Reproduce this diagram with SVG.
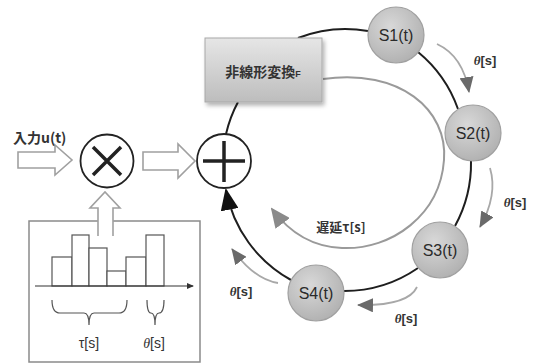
<svg xmlns="http://www.w3.org/2000/svg" width="536" height="363" viewBox="0 0 536 363">
  <style>
    .lbl { font-family: "Liberation Sans", "Noto Sans CJK JP", sans-serif; fill: #333; }
    .jp { font-family: "Noto Sans CJK JP", "Liberation Sans", sans-serif; font-weight: bold; fill: #333; }
    .th { font-family: "Liberation Serif", serif; font-style: italic; }
    .ring { fill: none; stroke: #1e1e1e; stroke-width: 2; }
    .hollow { fill: #fff; stroke: #a0a0a0; stroke-width: 1.6; stroke-linejoin: miter; }
    .theta { fill: none; stroke: #a8a8a8; stroke-width: 1.8; }
    .node circle { fill: url(#nodeFill); stroke: #a0a0a0; stroke-width: 1.2; }
    .node text { font-family: "Liberation Sans", sans-serif; font-size: 16px; fill: #2a2a2a; text-anchor: middle; }
    .bar { fill: #fff; stroke: #555; stroke-width: 1.2; }
  </style>
  <defs>
    <radialGradient id="nodeFill" cx="0.4" cy="0.35" r="0.75">
      <stop offset="0" stop-color="#d8d8d8"/>
      <stop offset="1" stop-color="#adadad"/>
    </radialGradient>
    <linearGradient id="boxFill" x1="0" y1="0" x2="0" y2="1">
      <stop offset="0" stop-color="#e6e6e6"/>
      <stop offset="1" stop-color="#bdbdbd"/>
    </linearGradient>
    <filter id="shadow" x="-10%" y="-10%" width="130%" height="140%">
      <feDropShadow dx="2" dy="3" stdDeviation="2" flood-color="#000" flood-opacity="0.3"/>
    </filter>
    <marker id="blackHead" markerUnits="userSpaceOnUse" markerWidth="22" markerHeight="18" refX="20" refY="9" orient="auto">
      <path d="M0,0 L22,9 L0,18 z" fill="#111"/>
    </marker>
    <marker id="grayHead" markerUnits="userSpaceOnUse" markerWidth="20" markerHeight="18" refX="18" refY="9" orient="auto">
      <path d="M0,0 L20,9 L0,18 z" fill="#8a8a8a"/>
    </marker>
    <marker id="thetaHead" markerUnits="userSpaceOnUse" markerWidth="16" markerHeight="14" refX="15" refY="7" orient="auto">
      <path d="M0,0 L16,7 L0,14 z" fill="#6a6a6a"/>
    </marker>
    <marker id="axisHead" markerUnits="userSpaceOnUse" markerWidth="7" markerHeight="6" refX="6" refY="3" orient="auto">
      <path d="M0,0 L7,3 L0,6 z" fill="#333"/>
    </marker>
  </defs>

  <!-- feedback ring and delay arrows -->
  <g id="connectors">
    <path class="ring" d="M226,134 A130,130 0 0 1 238,102"/>
    <path class="ring" d="M298,38 A130,130 0 0 1 368,31"/>
    <path class="ring" d="M418,52 A130,130 0 0 1 458,109"/>
    <path class="ring" d="M471,161 A130,130 0 0 1 455,226"/>
    <path class="ring" d="M418,268 A130,130 0 0 1 344,291"/>
    <path class="ring" d="M291,280 A130,130 0 0 1 226,190" marker-end="url(#blackHead)"/>

    <!-- inner delay loop -->
    <path d="M323,79 C400,68 448,110 444,160 C440,215 392,250 342,248 C316,247 292,236 272,209" fill="none" stroke="#9a9a9a" stroke-width="2" marker-end="url(#grayHead)"/>

    <!-- per-step delay arrows -->
    <path class="theta" d="M437,44 Q463,56 469,92" marker-end="url(#thetaHead)"/>
    <path class="theta" d="M490,168 Q498,195 480,227" marker-end="url(#thetaHead)"/>
    <path class="theta" d="M417,287 Q408,306 358,305" marker-end="url(#thetaHead)"/>
    <path class="theta" d="M278,283 Q255,280 232,249" marker-end="url(#thetaHead)"/>

    <!-- hollow signal arrows -->
    <path class="hollow" d="M18,152 L55,152 L55,145 L72,160 L55,175 L55,168 L18,168 z"/>
    <path class="hollow" d="M143,152 L178,152 L178,144 L195,161 L178,178 L178,170 L143,170 z"/>
  </g>

  <!-- labels on the ring -->
  <g id="ring-labels">
    <text class="lbl" x="485" y="65" font-size="13" font-weight="bold" text-anchor="middle"><tspan class="th">θ</tspan>[s]</text>
    <text class="lbl" x="515" y="207" font-size="13" font-weight="bold" text-anchor="middle"><tspan class="th">θ</tspan>[s]</text>
    <text class="lbl" x="406" y="323" font-size="13" font-weight="bold" text-anchor="middle"><tspan class="th">θ</tspan>[s]</text>
    <text class="lbl" x="241" y="296" font-size="13" font-weight="bold" text-anchor="middle"><tspan class="th">θ</tspan>[s]</text>
    <text class="jp" x="341" y="232" font-size="13" text-anchor="middle">遅延τ[s]</text>
  </g>

  <!-- input -->
  <g id="input">
    <text class="jp" x="13" y="143" font-size="14">入力u(t)</text>
  </g>

  <!-- multiplier -->
  <g id="multiplier">
    <circle cx="107" cy="161" r="26.5" fill="#fff" stroke="#222" stroke-width="1.8"/>
    <path d="M93,147 L121,175 M121,147 L93,175" stroke="#222" stroke-width="3.5" stroke-linecap="butt"/>
  </g>

  <!-- adder -->
  <g id="adder">
    <circle cx="224" cy="161" r="27" fill="#fff" stroke="#222" stroke-width="1.8"/>
    <path d="M203,161 L245,161 M224,141 L224,182" stroke="#222" stroke-width="3.5"/>
  </g>

  <!-- nonlinear transform block -->
  <g id="nonlinear">
    <rect x="205" y="38" width="117" height="64" fill="url(#boxFill)" stroke="#a8a8a8" stroke-width="1" filter="url(#shadow)"/>
    <text class="jp" x="263" y="77" font-size="14" text-anchor="middle">非線形変換<tspan font-size="9" font-family="Liberation Sans, sans-serif">F</tspan></text>
  </g>

  <!-- virtual nodes -->
  <g id="s1" class="node">
    <circle cx="396" cy="35" r="28"/>
    <text x="396" y="41">S1(t)</text>
  </g>
  <g id="s2" class="node">
    <circle cx="473" cy="133" r="28"/>
    <text x="473" y="139">S2(t)</text>
  </g>
  <g id="s3" class="node">
    <circle cx="440" cy="250" r="28"/>
    <text x="440" y="256">S3(t)</text>
  </g>
  <g id="s4" class="node">
    <circle cx="316" cy="293" r="28"/>
    <text x="316" y="299">S4(t)</text>
  </g>

  <!-- mask signal panel -->
  <g id="mask">
    <rect x="29" y="221" width="171" height="141" fill="#fff" stroke="#8a8a8a" stroke-width="1.5"/>
    <path class="hollow" d="M98,236 L98,208 L90,208 L105,192 L120,208 L113,208 L113,236"/>
    <rect class="bar" x="52" y="257" width="20" height="29"/>
    <rect class="bar" x="72" y="235" width="17" height="51"/>
    <rect class="bar" x="89" y="248" width="18" height="38"/>
    <rect class="bar" x="107" y="271" width="19" height="15"/>
    <rect class="bar" x="126" y="257" width="20" height="29"/>
    <rect class="bar" x="146" y="235" width="18" height="51"/>
    <path d="M35,286 L193,286" stroke="#333" stroke-width="1.2" marker-end="url(#axisHead)"/>
    <path d="M52,300 Q52,313 60,313 L84,313 Q89,313 89,325 Q89,313 94,313 L119,313 Q127,313 127,300" fill="none" stroke="#555" stroke-width="1.2"/>
    <path d="M147,300 Q147,313 151,313 Q155,313 155,325 Q155,313 159,313 Q164,313 164,300" fill="none" stroke="#555" stroke-width="1.2"/>
    <text class="lbl" x="89" y="348" font-size="14" text-anchor="middle" fill="#444">τ[s]</text>
    <text class="lbl" x="154" y="348" font-size="14" text-anchor="middle" fill="#444"><tspan class="th">θ</tspan>[s]</text>
  </g>
</svg>
